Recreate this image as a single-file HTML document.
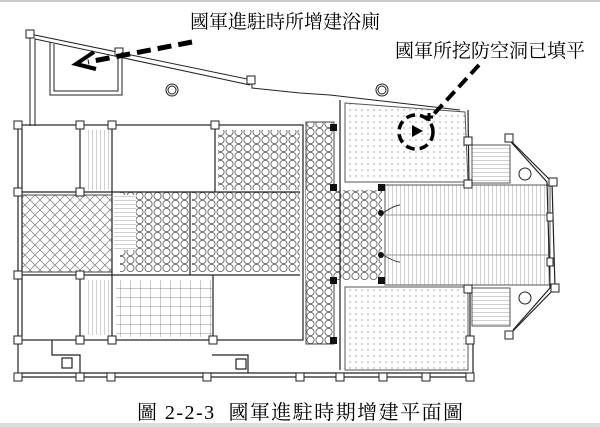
<!DOCTYPE html>
<html><head><meta charset="utf-8"><style>
html,body{margin:0;padding:0;background:#fff;width:600px;height:427px;overflow:hidden}
svg{display:block}
text{font-family:"Liberation Serif","Noto Serif CJK SC","Noto Sans CJK TC",serif;fill:#000}
</style></head><body>
<svg width="600" height="427" viewBox="0 0 600 427" xmlns="http://www.w3.org/2000/svg">
<defs>
<pattern id="hex" width="9" height="8" patternUnits="userSpaceOnUse">
<rect width="9" height="8" fill="#fff"/>
<circle cx="4.5" cy="4" r="3.6" fill="none" stroke="#555" stroke-width="0.8"/>
</pattern>
<pattern id="cross" width="10" height="10" patternUnits="userSpaceOnUse">
<rect width="10" height="10" fill="#fff"/>
<path d="M0 0L10 10M10 0L0 10" stroke="#777" stroke-width="0.7"/>
</pattern>
<pattern id="dots" width="6" height="6" patternUnits="userSpaceOnUse">
<rect width="6" height="6" fill="#fff"/>
<circle cx="2" cy="2" r="0.6" fill="#666"/>
</pattern>
<pattern id="tile" width="10" height="9" patternUnits="userSpaceOnUse">
<rect width="10" height="9" fill="#fff"/>
<path d="M0 0H10M0 0V9" stroke="#666" stroke-width="0.7"/>
</pattern>
<pattern id="vst" width="4" height="10" patternUnits="userSpaceOnUse">
<rect width="4" height="10" fill="#fff"/>
<path d="M0 0V10" stroke="#777" stroke-width="0.7"/>
</pattern>
<pattern id="hst" width="10" height="4" patternUnits="userSpaceOnUse">
<rect width="10" height="4" fill="#fff"/>
<path d="M0 0H10" stroke="#777" stroke-width="0.7"/>
</pattern>
</defs>
<rect x="0" y="0" width="600" height="2" fill="#ccc"/>
<rect x="0" y="423" width="600" height="4" fill="#ddd"/>

<g fill="none" stroke="#222" stroke-width="1">
<polyline points="30,126 30,34 252,80 252,88 300,93 330,95 460,110"/>
<polyline points="35,126 35,39 250,85"/>
<rect x="26" y="30" width="8" height="8" fill="#fff"/>
<rect x="115" y="48" width="8" height="8" fill="#fff"/>
<rect x="247" y="76" width="8" height="8" fill="#fff"/>
<polyline points="50,42 50,95 122,95 122,52"/>
<polyline points="54,44 54,91 118,91 118,54"/>
<circle cx="172" cy="90" r="6"/><circle cx="172" cy="90" r="4"/>
<circle cx="382" cy="90" r="6"/><circle cx="382" cy="90" r="4"/>
</g>

<rect x="22" y="195" width="90" height="77" fill="url(#cross)" stroke="#444"/>
<rect x="218" y="130" width="82" height="60" fill="url(#hex)"/>
<rect x="120" y="192" width="70" height="80" fill="url(#hex)"/>
<rect x="192" y="192" width="108" height="80" fill="url(#hex)"/>
<rect x="116" y="280" width="96" height="57" fill="url(#tile)"/>
<rect x="306" y="122" width="28" height="222" fill="url(#hex)" stroke="#444"/>
<rect x="306" y="190" width="76" height="90" fill="url(#hex)"/>
<polygon points="345,103 465,112 468,182 345,182" fill="url(#dots)" stroke="#555"/>
<polygon points="345,287 468,287 468,370 345,370" fill="url(#dots)" stroke="#555"/>
<rect x="472" y="145" width="38" height="38" fill="url(#hst)" stroke="#555"/>
<rect x="472" y="288" width="38" height="38" fill="url(#hst)" stroke="#555"/>
<rect x="385" y="185" width="165" height="100" fill="url(#vst)" stroke="#555"/>
<line x1="385" y1="215" x2="550" y2="215" stroke="#999"/>
<line x1="385" y1="255" x2="550" y2="255" stroke="#999"/>
<rect x="85" y="130" width="25" height="60" fill="url(#vst)"/>
<rect x="85" y="280" width="25" height="55" fill="url(#vst)"/>
<rect x="114" y="195" width="22" height="55" fill="url(#hst)"/>

<g fill="none" stroke="#222" stroke-width="1.2">
<rect x="18" y="125" width="285" height="215"/>
<line x1="22" y1="129" x2="22" y2="336"/>
<line x1="80" y1="125" x2="80" y2="192"/>
<line x1="80" y1="275" x2="80" y2="340"/>
<line x1="112" y1="125" x2="112" y2="340"/>
<line x1="215" y1="125" x2="215" y2="192"/>
<line x1="213" y1="275" x2="213" y2="340"/>
<line x1="18" y1="192" x2="300" y2="192"/>
<line x1="18" y1="275" x2="300" y2="275"/>
<line x1="190" y1="192" x2="190" y2="275"/>
<polyline points="18,340 18,377 473,377 473,340"/>
<line x1="22" y1="373" x2="468" y2="373"/>
<polyline points="52,340 52,355 80,355 80,373"/>
<polyline points="212,355 248,355 248,373"/>
<rect x="62" y="358" width="10" height="10"/>
<rect x="236" y="359" width="10" height="10"/>
<polyline points="508,138 552,182 555,288 510,334"/>
<polyline points="511,142 547,182 550,288 513,330"/>
<line x1="340" y1="100" x2="340" y2="370"/>
<line x1="468" y1="110" x2="469" y2="185"/>
<line x1="470" y1="285" x2="470" y2="340"/>
</g>
<g fill="#fff" stroke="#222">
<rect x="14" y="121" width="8" height="8"/><rect x="76" y="121" width="8" height="8"/>
<rect x="108" y="121" width="8" height="8"/><rect x="211" y="121" width="8" height="8"/>
<rect x="14" y="188" width="8" height="8"/><rect x="76" y="188" width="8" height="8"/>
<rect x="14" y="271" width="8" height="8"/><rect x="76" y="271" width="8" height="8"/>
<rect x="14" y="336" width="8" height="8"/><rect x="76" y="336" width="8" height="8"/>
<rect x="108" y="336" width="8" height="8"/><rect x="209" y="336" width="8" height="8"/>
<rect x="14" y="373" width="8" height="8"/><rect x="76" y="373" width="8" height="8"/>
<rect x="107" y="373" width="8" height="8"/><rect x="203" y="373" width="8" height="8"/>
<rect x="296" y="373" width="8" height="8"/><rect x="336" y="373" width="8" height="8"/>
<rect x="379" y="373" width="8" height="8"/><rect x="422" y="373" width="8" height="8"/>
<rect x="466" y="373" width="8" height="8"/><rect x="466" y="336" width="8" height="8"/>
<rect x="505" y="134" width="8" height="8"/><rect x="549" y="178" width="8" height="8"/>
<rect x="551" y="284" width="8" height="8"/><rect x="505" y="331" width="8" height="8"/>
<rect x="464" y="137" width="8" height="8"/><rect x="464" y="180" width="8" height="8"/>
<rect x="464" y="285" width="8" height="8"/>
<rect x="547" y="213" width="6" height="8"/><rect x="547" y="258" width="6" height="8"/>
<circle cx="525" cy="174" r="6"/><circle cx="525" cy="298" r="6"/>
</g>
<g fill="#111">
<rect x="330" y="124" width="7" height="7"/><rect x="330" y="184" width="7" height="7"/>
<rect x="378" y="184" width="7" height="7"/><rect x="378" y="277" width="7" height="7"/>
<rect x="330" y="277" width="7" height="7"/><rect x="330" y="337" width="7" height="7"/>
<circle cx="381" cy="213" r="3"/><circle cx="381" cy="255" r="3"/>
</g>
<path d="M383 213 Q395 205 400 205M383 255 Q395 262 400 262" stroke="#333" fill="none"/>

<path d="M192 42 L88 62" stroke="#000" stroke-width="5" stroke-dasharray="14,7" fill="none"/>
<path d="M94 52 L76 64 L96 69" stroke="#000" stroke-width="4" fill="none"/>
<path d="M479 65 L433 115" stroke="#000" stroke-width="4" stroke-dasharray="12,6" fill="none"/>
<path d="M425 117h8M429 113v8" stroke="#000" stroke-width="3"/>
<circle cx="416" cy="132" r="17" fill="none" stroke="#000" stroke-width="3.5" stroke-dasharray="9,5"/>
<polygon points="412,125 423,131 412,137" fill="#000"/>

<text x="190" y="28" font-size="19">國軍進駐時所增建浴廁</text>
<text x="395" y="57" font-size="19">國軍所挖防空洞已填平</text>
<text x="137" y="419" font-size="20" textLength="326" lengthAdjust="spacing">圖 2-2-3&#160;&#160;國軍進駐時期增建平面圖</text>
</svg>
</body></html>
